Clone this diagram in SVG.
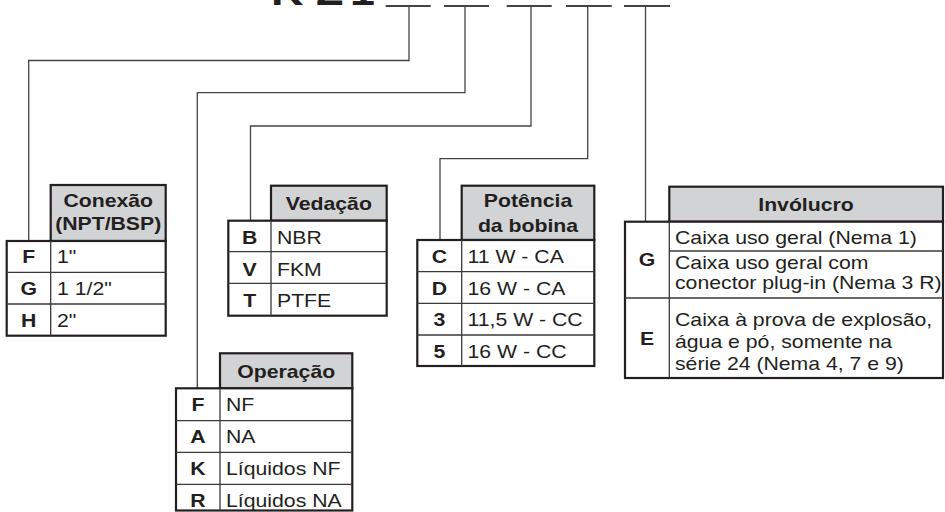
<svg xmlns="http://www.w3.org/2000/svg" width="945" height="512" viewBox="0 0 945 512">
<style>
.t{font-family:"Liberation Sans",Arial,Helvetica,sans-serif;font-size:18px;fill:#231f20}
.b{font-weight:bold}
.c{text-anchor:middle}
.ttl{font-size:38px}
.hd{fill:#d2d3d5;stroke:#231f20;stroke-width:2.2}
.box{fill:#fff;stroke:#231f20;stroke-width:2.2}
.ln{stroke:#3a3a3a;stroke-width:1.3;fill:none}
.cn{stroke:#444;stroke-width:1.3;fill:none}
.us{stroke:#444;stroke-width:2;fill:none}
</style>
<rect width="945" height="512" fill="#fff"/>
<g id="title">
<text class="t b ttl" transform="translate(271 5) scale(1.18 1)">K</text>
<text class="t b ttl" transform="translate(316 5) scale(1.18 1)">Z</text>
<text class="t b ttl" transform="translate(350 5) scale(1.18 1)">1</text>
<path class="us" d="M385.7 6H430.7M444 6H489M506.7 6H551.7M566 6H611.7M624 6H670"/>
</g>
<g id="connectors">
<path class="cn" d="M409 6V60.5H28.7V241"/>
<path class="cn" d="M465 6V92.7H197.3V388.3"/>
<path class="cn" d="M531 6V126H250.5V220.7"/>
<path class="cn" d="M587.7 6V158.7H440V240"/>
<path class="cn" d="M645.5 6V221.7"/>
</g>
<g id="conexao">
<rect class="hd" x="50.7" y="185" width="115" height="56"/>
<text class="t b c" transform="translate(108.2 207) scale(1.18 1)">Conexão</text>
<text class="t b c" transform="translate(108.2 230) scale(1.18 1)">(NPT/BSP)</text>
<rect class="box" x="6.7" y="241" width="159" height="94.7"/>
<path class="ln" d="M50.7 241V335.7M6.7 272.3H165.7M6.7 304H165.7"/>
<text class="t b c" transform="translate(28.7 263) scale(1.18 1)">F</text>
<text class="t" transform="translate(57 263) scale(1.18 1)">1"</text>
<text class="t b c" transform="translate(28.7 295) scale(1.18 1)">G</text>
<text class="t" transform="translate(57 295) scale(1.18 1)">1 1/2"</text>
<text class="t b c" transform="translate(28.7 327) scale(1.18 1)">H</text>
<text class="t" transform="translate(57 327) scale(1.18 1)">2"</text>
</g>
<g id="vedacao">
<rect class="hd" x="271" y="185.7" width="115.7" height="35"/>
<text class="t b c" transform="translate(328.8 210) scale(1.18 1)">Vedação</text>
<rect class="box" x="228.3" y="220.7" width="158.4" height="95"/>
<path class="ln" d="M271 220.7V315.7M228.3 251.7H386.7M228.3 283.3H386.7"/>
<text class="t b c" transform="translate(249.7 244) scale(1.18 1)">B</text>
<text class="t" transform="translate(277 244) scale(1.18 1)">NBR</text>
<text class="t b c" transform="translate(249.7 275.5) scale(1.18 1)">V</text>
<text class="t" transform="translate(277 275.5) scale(1.18 1)">FKM</text>
<text class="t b c" transform="translate(249.7 307) scale(1.18 1)">T</text>
<text class="t" transform="translate(277 307) scale(1.18 1)">PTFE</text>
</g>
<g id="potencia">
<rect class="hd" x="461.7" y="185.7" width="132.6" height="54.3"/>
<text class="t b c" transform="translate(528 206.5) scale(1.18 1)">Potência</text>
<text class="t b c" transform="translate(528 232) scale(1.18 1)">da bobina</text>
<rect class="box" x="417.3" y="240" width="177" height="126"/>
<path class="ln" d="M461.7 240V366M417.3 271.7H594.3M417.3 303.3H594.3M417.3 335H594.3"/>
<text class="t b c" transform="translate(439.5 263) scale(1.18 1)">C</text>
<text class="t" transform="translate(467.5 263) scale(1.18 1)">11 W - CA</text>
<text class="t b c" transform="translate(439.5 294.5) scale(1.18 1)">D</text>
<text class="t" transform="translate(467.5 294.5) scale(1.18 1)">16 W - CA</text>
<text class="t b c" transform="translate(439.5 326) scale(1.18 1)">3</text>
<text class="t" transform="translate(467.5 326) scale(1.18 1)">11,5 W - CC</text>
<text class="t b c" transform="translate(439.5 357.5) scale(1.18 1)">5</text>
<text class="t" transform="translate(467.5 357.5) scale(1.18 1)">16 W - CC</text>
</g>
<g id="involucro">
<rect class="hd" x="669.3" y="186.7" width="273.7" height="35"/>
<text class="t b c" transform="translate(806 211) scale(1.18 1)">Invólucro</text>
<rect class="box" x="625" y="221.7" width="318" height="156.3"/>
<path class="ln" d="M669.3 221.7V378M669.3 251H943M625 298H943"/>
<text class="t b c" transform="translate(647 266) scale(1.18 1)">G</text>
<text class="t" transform="translate(675 243.5) scale(1.18 1)">Caixa uso geral (Nema 1)</text>
<text class="t" transform="translate(675 269) scale(1.18 1)">Caixa uso geral com</text>
<text class="t" transform="translate(675 289) scale(1.18 1)">conector plug-in (Nema 3 R)</text>
<text class="t b c" transform="translate(647 345) scale(1.18 1)">E</text>
<text class="t" transform="translate(675 326) scale(1.18 1)">Caixa à prova de explosão,</text>
<text class="t" transform="translate(675 348) scale(1.18 1)">água e pó, somente na</text>
<text class="t" transform="translate(675 370) scale(1.18 1)">série 24 (Nema 4, 7 e 9)</text>
</g>
<g id="operacao">
<rect class="hd" x="220" y="353.3" width="132.3" height="35"/>
<text class="t b c" transform="translate(286.2 377.5) scale(1.18 1)">Operação</text>
<rect class="box" x="176" y="388.3" width="176.3" height="122.2"/>
<path class="ln" d="M220 388.3V510.5M176 420.7H352.3M176 452.3H352.3M176 484.3H352.3"/>
<text class="t b c" transform="translate(198 411) scale(1.18 1)">F</text>
<text class="t" transform="translate(226 411) scale(1.18 1)">NF</text>
<text class="t b c" transform="translate(198 443) scale(1.18 1)">A</text>
<text class="t" transform="translate(226 443) scale(1.18 1)">NA</text>
<text class="t b c" transform="translate(198 475) scale(1.18 1)">K</text>
<text class="t" transform="translate(226 475) scale(1.18 1)">Líquidos NF</text>
<text class="t b c" transform="translate(198 506.5) scale(1.18 1)">R</text>
<text class="t" transform="translate(226 506.5) scale(1.18 1)">Líquidos NA</text>
</g>
</svg>
